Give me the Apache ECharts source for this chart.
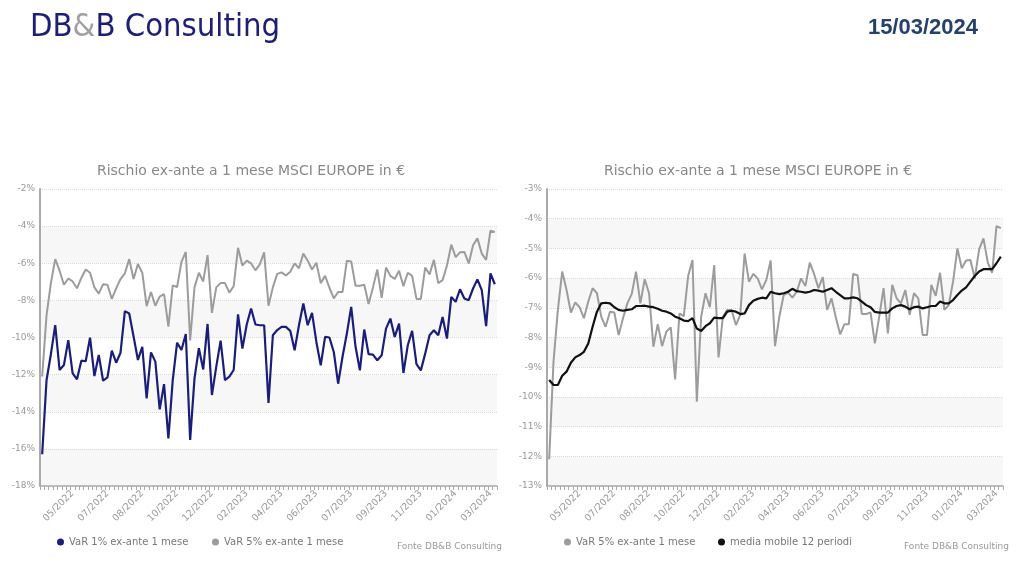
<!DOCTYPE html>
<html>
<head>
<meta charset="utf-8">
<script src="https://cdn.jsdelivr.net/npm/echarts@6/dist/echarts.min.js"></script>
<style>
  html, body { margin: 0; padding: 0; background: #ffffff; }
  #chart { width: 1024px; height: 578px; }
</style>
</head>
<body>
<div id="chart"></div>
<script>
// Weekly observation dates (Friday), 18/03/2022 .. 15/03/2024
const dates = [
  '18/03/2022','25/03/2022','01/04/2022','08/04/2022','15/04/2022','22/04/2022','29/04/2022','06/05/2022',
  '13/05/2022','20/05/2022','27/05/2022','03/06/2022','10/06/2022','17/06/2022','24/06/2022','01/07/2022',
  '08/07/2022','15/07/2022','22/07/2022','29/07/2022','05/08/2022','12/08/2022','19/08/2022','26/08/2022',
  '02/09/2022','09/09/2022','16/09/2022','23/09/2022','30/09/2022','07/10/2022','14/10/2022','21/10/2022',
  '28/10/2022','04/11/2022','11/11/2022','18/11/2022','25/11/2022','02/12/2022','09/12/2022','16/12/2022',
  '23/12/2022','30/12/2022','06/01/2023','13/01/2023','20/01/2023','27/01/2023','03/02/2023','10/02/2023',
  '17/02/2023','24/02/2023','03/03/2023','10/03/2023','17/03/2023','24/03/2023','31/03/2023','07/04/2023',
  '14/04/2023','21/04/2023','28/04/2023','05/05/2023','12/05/2023','19/05/2023','26/05/2023','02/06/2023',
  '09/06/2023','16/06/2023','23/06/2023','30/06/2023','07/07/2023','14/07/2023','21/07/2023','28/07/2023',
  '04/08/2023','11/08/2023','18/08/2023','25/08/2023','01/09/2023','08/09/2023','15/09/2023','22/09/2023',
  '29/09/2023','06/10/2023','13/10/2023','20/10/2023','27/10/2023','03/11/2023','10/11/2023','17/11/2023',
  '24/11/2023','01/12/2023','08/12/2023','15/12/2023','22/12/2023','29/12/2023','05/01/2024','12/01/2024',
  '19/01/2024','26/01/2024','02/02/2024','09/02/2024','16/02/2024','23/02/2024','01/03/2024','08/03/2024',
  '15/03/2024'
];

// VaR 1% ex-ante 1 mese (%)
const var1 = [
  -16.29,-12.3,-10.9,-9.33,-11.75,-11.48,-10.14,-11.93,-12.25,-11.25,
  -11.28,-10.01,-12.08,-10.94,-12.33,-12.15,-10.71,-11.36,-10.82,-8.58,
  -8.71,-9.95,-11.21,-10.5,-13.28,-10.8,-11.3,-13.87,-12.51,-15.43,
  -12.29,-10.28,-10.67,-9.81,-15.52,-12.2,-10.58,-11.72,-9.27,-13.1,
  -11.57,-10.17,-12.29,-12.11,-11.75,-8.75,-10.6,-9.3,-8.44,-9.3,
  -9.34,-9.34,-13.53,-9.88,-9.6,-9.43,-9.43,-9.64,-10.69,-9.34,
  -8.17,-9.34,-8.67,-10.24,-11.5,-9.97,-10.0,-10.78,-12.49,-11.05,
  -9.79,-8.35,-10.5,-11.77,-9.57,-10.9,-10.92,-11.23,-10.96,-9.52,
  -8.98,-9.97,-9.25,-11.91,-10.42,-9.64,-11.44,-11.77,-10.87,-9.88,
  -9.61,-9.88,-8.89,-10.06,-7.81,-8.08,-7.4,-7.9,-7.99,-7.36,
  -6.87,-7.45,-9.39,-6.55,-7.13
];

// VaR 5% ex-ante 1 mese (%)
const var5 = [
  -12.10,-8.81,-7.07,-5.78,-6.40,-7.16,-6.82,-6.98,-7.35,-6.79,
  -6.34,-6.51,-7.30,-7.64,-7.13,-7.16,-7.92,-7.35,-6.85,-6.54,
  -5.78,-6.85,-6.04,-6.51,-8.31,-7.55,-8.29,-7.80,-7.66,-9.41,
  -7.19,-7.28,-5.93,-5.39,-10.16,-7.30,-6.51,-6.98,-5.56,-8.67,
  -7.30,-7.07,-7.07,-7.58,-7.24,-5.17,-6.12,-5.86,-6.01,-6.38,
  -6.06,-5.41,-8.29,-7.30,-6.57,-6.49,-6.66,-6.46,-6.01,-6.27,
  -5.48,-5.86,-6.34,-5.97,-7.07,-6.68,-7.32,-7.89,-7.55,-7.55,
  -5.86,-5.90,-7.21,-7.21,-7.16,-8.20,-7.30,-6.34,-7.86,-6.23,
  -6.68,-6.85,-6.40,-7.24,-6.51,-6.68,-7.92,-7.92,-6.23,-6.60,
  -5.82,-7.07,-6.91,-6.12,-5.00,-5.67,-5.41,-5.39,-6.01,-5.03,
  -4.66,-5.48,-5.82,-4.25,-4.32
];

// media mobile 12 periodi (%)
const ma12 = [
  -9.43,-9.60,-9.60,-9.29,-9.15,-8.85,-8.67,-8.59,-8.48,-8.20,
  -7.64,-7.13,-6.85,-6.83,-6.85,-6.98,-7.07,-7.10,-7.07,-7.05,
  -6.94,-6.94,-6.93,-6.96,-6.98,-7.03,-7.10,-7.13,-7.19,-7.30,
  -7.35,-7.43,-7.45,-7.35,-7.70,-7.78,-7.62,-7.52,-7.33,-7.35,
  -7.35,-7.13,-7.10,-7.13,-7.21,-7.19,-6.91,-6.76,-6.70,-6.66,
  -6.68,-6.46,-6.51,-6.54,-6.51,-6.46,-6.36,-6.44,-6.46,-6.49,
  -6.46,-6.40,-6.42,-6.46,-6.40,-6.34,-6.46,-6.57,-6.68,-6.68,
  -6.65,-6.68,-6.79,-6.91,-6.98,-7.14,-7.16,-7.16,-7.16,-7.02,
  -6.94,-6.91,-6.96,-7.05,-6.98,-6.96,-7.02,-6.98,-6.94,-6.94,
  -6.79,-6.85,-6.85,-6.74,-6.57,-6.42,-6.31,-6.12,-5.93,-5.78,
  -5.70,-5.70,-5.70,-5.50,-5.28
];

const seriesNames = ['VaR 1% ex-ante 1 mese', 'VaR 5% ex-ante 1 mese', 'media mobile 12 periodi'];
const chartTitle = 'Rischio ex-ante a 1 mese MSCI EUROPE in \u20AC';
const sourceText = 'Fonte DB&B Consulting';
const headerDate = '15/03/2024';
const leftRange = [-18, -2, 2];
const rightRange = [-13, -3, 1];

const FONT = "'DejaVu Sans', Verdana, sans-serif";
const HEAD_FONT = "'Liberation Sans Narrow', 'DejaVu Sans Condensed', sans-serif";
const NAVY = '#1b1e78';
const GREY = '#9c9c9c';
const BLACK = '#111111';

function xAxisCfg(gi) {
  return {
    type: 'category', gridIndex: gi, data: dates, boundaryGap: true,
    axisLine: { show: true, onZero: false, lineStyle: { color: '#aaaaaa', width: 1.5 } },
    axisTick: { show: true, interval: 0, length: 4, lineStyle: { color: '#aaaaaa' } },
    axisLabel: {
      interval: function (i) { return i % 8 === 7; },
      rotate: 45, color: '#999999', fontSize: 9.5, fontFamily: FONT, margin: 6,
      formatter: function (v) { return v.slice(3); }
    },
    splitLine: { show: false }
  };
}
function yAxisCfg(gi, r) {
  return {
    type: 'value', gridIndex: gi, min: r[0], max: r[1], interval: r[2],
    axisLine: { show: true, lineStyle: { color: '#aaaaaa', width: 2 } },
    axisTick: { show: false },
    axisLabel: { formatter: '{value}%', color: '#999999', fontSize: 9, fontFamily: FONT, margin: 5 },
    splitLine: { show: true, lineStyle: { color: '#d8d8d8', type: 'dotted', width: 1 } },
    splitArea: { show: true, areaStyle: { color: ['#f7f7f7', '#ffffff'] } }
  };
}
function legendCfg(name, left) {
  return {
    data: [name], left: left, top: 537, padding: 0, icon: 'circle', itemWidth: 7, itemHeight: 7, itemGap: 0,
    selectedMode: false,
    textStyle: { color: '#777777', fontSize: 10, fontFamily: FONT }
  };
}
function txt(x, y, text, opts) {
  return {
    type: 'text', x: x, y: y, silent: true,
    style: Object.assign({ text: text, fill: '#888888', font: '14px ' + FONT,
      textAlign: 'center', textVerticalAlign: 'middle', align: 'center', verticalAlign: 'middle' }, opts || {})
  };
}

const chart = echarts.init(document.getElementById('chart'), null, { renderer: 'canvas' });
chart.setOption({
  animation: false,
  backgroundColor: '#ffffff',
  grid: [
    { left: 40, right: 527, top: 189, bottom: 92 },
    { left: 547, right: 21, top: 189, bottom: 92 }
  ],
  xAxis: [xAxisCfg(0), xAxisCfg(1)],
  yAxis: [yAxisCfg(0, leftRange), yAxisCfg(1, rightRange)],
  legend: [
    legendCfg(seriesNames[0], 57),
    legendCfg(seriesNames[1], 212),
    legendCfg(seriesNames[1], 564),
    legendCfg(seriesNames[2], 718)
  ],
  series: [
    { name: seriesNames[1], type: 'line', xAxisIndex: 0, yAxisIndex: 0, data: var5, showSymbol: false,
      lineStyle: { color: GREY, width: 2 }, itemStyle: { color: GREY } },
    { name: seriesNames[0], type: 'line', xAxisIndex: 0, yAxisIndex: 0, data: var1, showSymbol: false,
      lineStyle: { color: NAVY, width: 2.2 }, itemStyle: { color: NAVY } },
    { name: seriesNames[1], type: 'line', xAxisIndex: 1, yAxisIndex: 1, data: var5, showSymbol: false,
      lineStyle: { color: GREY, width: 2 }, itemStyle: { color: GREY } },
    { name: seriesNames[2], type: 'line', xAxisIndex: 1, yAxisIndex: 1, data: ma12, showSymbol: false,
      lineStyle: { color: BLACK, width: 2.2 }, itemStyle: { color: BLACK } }
  ],
  graphic: [
    {
      type: 'text', x: 30, y: 28, silent: true,
      style: {
        text: '{a|DB}{b|&}{a|B Consulting}',
        textVerticalAlign: 'middle', verticalAlign: 'middle',
        rich: {
          a: { fill: '#1e1e74', color: '#1e1e74', fontSize: 32.5, fontFamily: HEAD_FONT },
          b: { fill: '#a0a0a0', color: '#a0a0a0', fontSize: 32.5, fontFamily: HEAD_FONT }
        }
      }
    },
    txt(978, 28, headerDate, { fill: '#24406b', font: "bold 22px 'Liberation Sans', sans-serif", textAlign: 'right', align: 'right' }),
    txt(251, 171, chartTitle),
    txt(758, 171, chartTitle),
    txt(502, 547, sourceText, { fill: '#999999', font: '9px ' + FONT, textAlign: 'right', align: 'right' }),
    txt(1009, 547, sourceText, { fill: '#999999', font: '9px ' + FONT, textAlign: 'right', align: 'right' })
  ]
});
</script>
</body>
</html>
